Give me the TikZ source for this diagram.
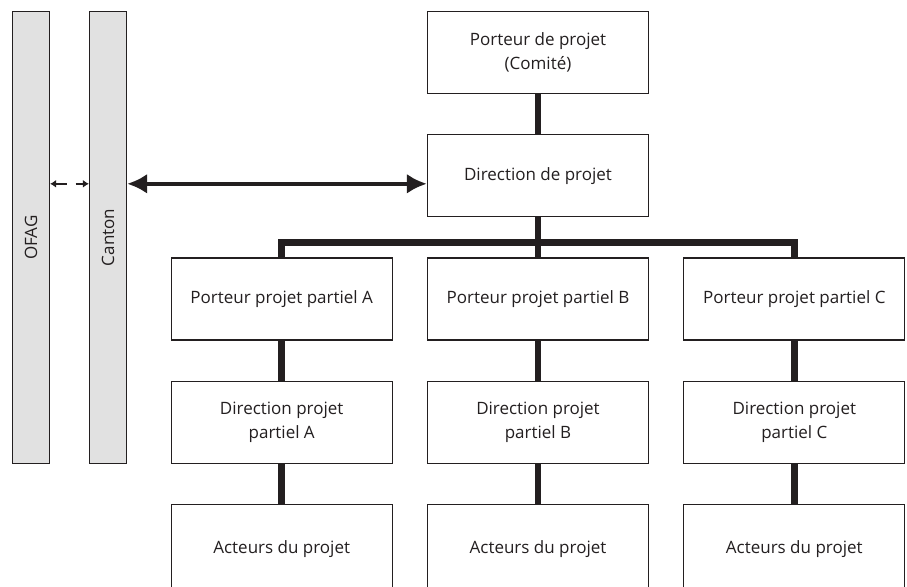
\documentclass[tikz,border=0pt]{standalone}
\usepackage{fontspec}
\setmainfont{Open Sans}
\usepackage{xcolor}
\definecolor{orgdark}{RGB}{35, 31, 32}
\definecolor{orggray}{RGB}{225, 225, 225}
\usepackage{tikz}
\usetikzlibrary{arrows.meta, positioning}

\begin{document}
\begin{tikzpicture}[
        x=1pt, y=-1pt,
        node distance=40pt and 34pt,
        font=\fontsize{17}{24}\selectfont,
        box/.style={
            rectangle,
            draw=orgdark,
            line width=1.3pt,
            fill=white,
            minimum width=221pt,
            minimum height=82pt,
            inner sep=0pt,
            align=center,
            text=orgdark
        },
        bar/.style={
            rectangle,
            draw=orgdark,
            line width=1.3pt,
            fill=orggray,
            rotate=90,
            minimum width=452pt,
            minimum height=37pt,
            inner sep=0pt,
            text=orgdark
        },
        link/.style={line width=6.5pt, color=orgdark},
        bigarrow/.style={{Latex[length=20pt,width=20pt]}-{Latex[length=20pt,width=20pt]}, line width=4pt, color=orgdark},
        smallarrow/.style={{Latex[length=6pt,width=8pt]}-{Latex[length=6pt,width=8pt]}, line width=2pt, color=orgdark, dash pattern=on 11pt off 9pt}
    ]
        \useasboundingbox (0,0) rectangle (907,586);
        \clip (0,0) rectangle (907,586);

        \node[bar] (ofag) at (31,237.5) {OFAG};
        \node[bar] (canton) at (108,237.5) {Canton};

        \node[box] (sponsor) at (538,52.5) {Porteur de projet\\(Comité)};
        \node[box, below=of sponsor] (dir) {Direction de projet};
        \node[box, below=of dir] (portB) {Porteur projet partiel B};
        \node[box, left=of portB] (portA) {Porteur projet partiel A};
        \node[box, right=of portB] (portC) {Porteur projet partiel C};
        \foreach \c in {A,B,C} {
            \node[box, below=of port\c] (lead\c) {Direction projet\\partiel \c};
            \node[box, below=of lead\c, minimum height=88pt] (act\c) {Acteurs du projet};
        }

        \coordinate (link) at ([yshift=-8pt]dir.west);
        \coordinate (bus) at ([yshift=-25pt]dir.south);

        \draw[bigarrow] (canton.south |- link) -- (link);
        \draw[smallarrow] (ofag.south |- link) -- (canton.north |- link);

        \draw[link] (sponsor) -- (dir);
        \draw[link] (dir) -- (portB);
        \draw[link] (portA.north) |- (bus) -| (portC.north);
        \foreach \c in {A,B,C} {
            \draw[link] (port\c) -- (lead\c);
            \draw[link] (lead\c) -- (act\c);
        }

    \end{tikzpicture}
\end{document}
